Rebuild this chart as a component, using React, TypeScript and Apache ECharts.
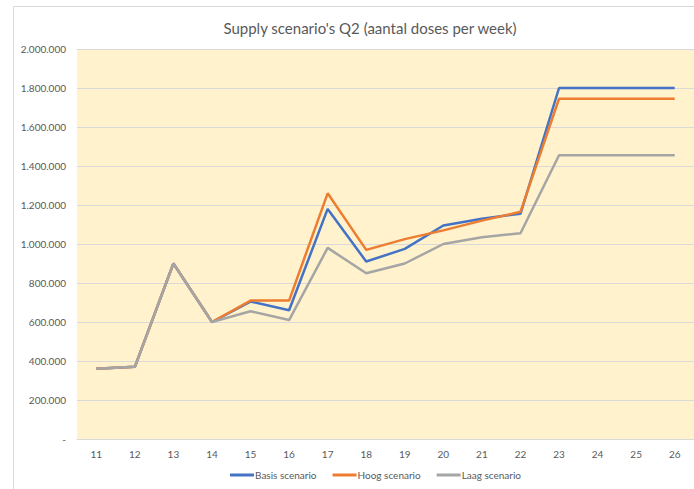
import React, { useEffect, useRef } from "react";
import * as echarts from "echarts";

const weeks = ["11", "12", "13", "14", "15", "16", "17", "18", "19", "20", "21", "22", "23", "24", "25", "26"];
const basis = [360000, 370000, 900000, 600000, 705000, 660000, 1180000, 910000, 975000, 1095000, 1130000, 1155000, 1800000, 1800000, 1800000, 1800000];
const hoog = [360000, 370000, 900000, 600000, 710000, 710000, 1260000, 970000, 1025000, 1070000, 1120000, 1165000, 1745000, 1745000, 1745000, 1745000];
const laag = [360000, 370000, 900000, 600000, 655000, 610000, 980000, 850000, 900000, 1000000, 1035000, 1055000, 1455000, 1455000, 1455000, 1455000];
const seriesNames = ["Basis scenario", "Hoog scenario", "Laag scenario"];
const titleText = "Supply scenario's Q2 (aantal doses per week)";

const fmt = (v: number) => {
  if (v === 0) return "-";
  return String(v).replace(/\B(?=(\d{3})+(?!\d))/g, ".");
};

export default function App() {
  const ref = useRef<HTMLDivElement>(null);
  useEffect(() => {
    if (!ref.current) return;
    const chart = echarts.init(ref.current, null, { renderer: "svg" });
    const font = "Lato, 'Open Sans', sans-serif";
    chart.setOption({
      animation: false,
      backgroundColor: "#ffffff",
      textStyle: { fontFamily: font },
      title: {
        text: titleText,
        left: 365,
        top: 15,
        textAlign: "center",
        textStyle: { fontSize: 15, fontWeight: "normal", color: "#595959", fontFamily: font },
      },
      graphic: [
        {
          type: "rect",
          shape: { x: 13.5, y: 6.5, width: 720, height: 500 },
          style: { fill: "none", stroke: "#D9D9D9", lineWidth: 1 },
          silent: true,
        },
      ],
      legend: {
        data: seriesNames,
        left: 225,
        top: 465,
        itemWidth: 24,
        itemHeight: 3,
        itemGap: 16,
        icon: "rect",
        textStyle: { fontSize: 10, color: "#595959", fontFamily: font, padding: [0, 0, 0, -4] },
      },
      grid: {
        left: 77,
        top: 49,
        width: 626,
        height: 390,
        show: true,
        backgroundColor: "#FFF2CC",
        borderWidth: 0,
      },
      xAxis: {
        type: "category",
        data: weeks,
        boundaryGap: true,
        axisTick: { show: false },
        axisLine: { show: true, lineStyle: { color: "#D9D9D9", width: 1 } },
        axisLabel: { color: "#595959", fontSize: 10, margin: 10, fontFamily: font },
      },
      yAxis: {
        type: "value",
        min: 0,
        max: 2000000,
        interval: 200000,
        axisLine: { show: false },
        axisTick: { show: false },
        splitLine: { lineStyle: { color: "#D9D9D9", width: 1 } },
        axisLabel: { color: "#595959", fontSize: 10, margin: 11, formatter: fmt, fontFamily: font },
      },
      series: [
        { name: seriesNames[0], type: "line", data: basis, symbol: "none", lineStyle: { width: 2.5, color: "#4472C4" }, itemStyle: { color: "#4472C4" } },
        { name: seriesNames[1], type: "line", data: hoog, symbol: "none", lineStyle: { width: 2.5, color: "#ED7D31" }, itemStyle: { color: "#ED7D31" } },
        { name: seriesNames[2], type: "line", data: laag, symbol: "none", lineStyle: { width: 2.5, color: "#A5A5A5" }, itemStyle: { color: "#A5A5A5" } },
      ],
    });
    return () => chart.dispose();
  }, []);
  return <div ref={ref} style={{ position: "fixed", left: 0, top: 0, width: 694, height: 489 }} />;
}
